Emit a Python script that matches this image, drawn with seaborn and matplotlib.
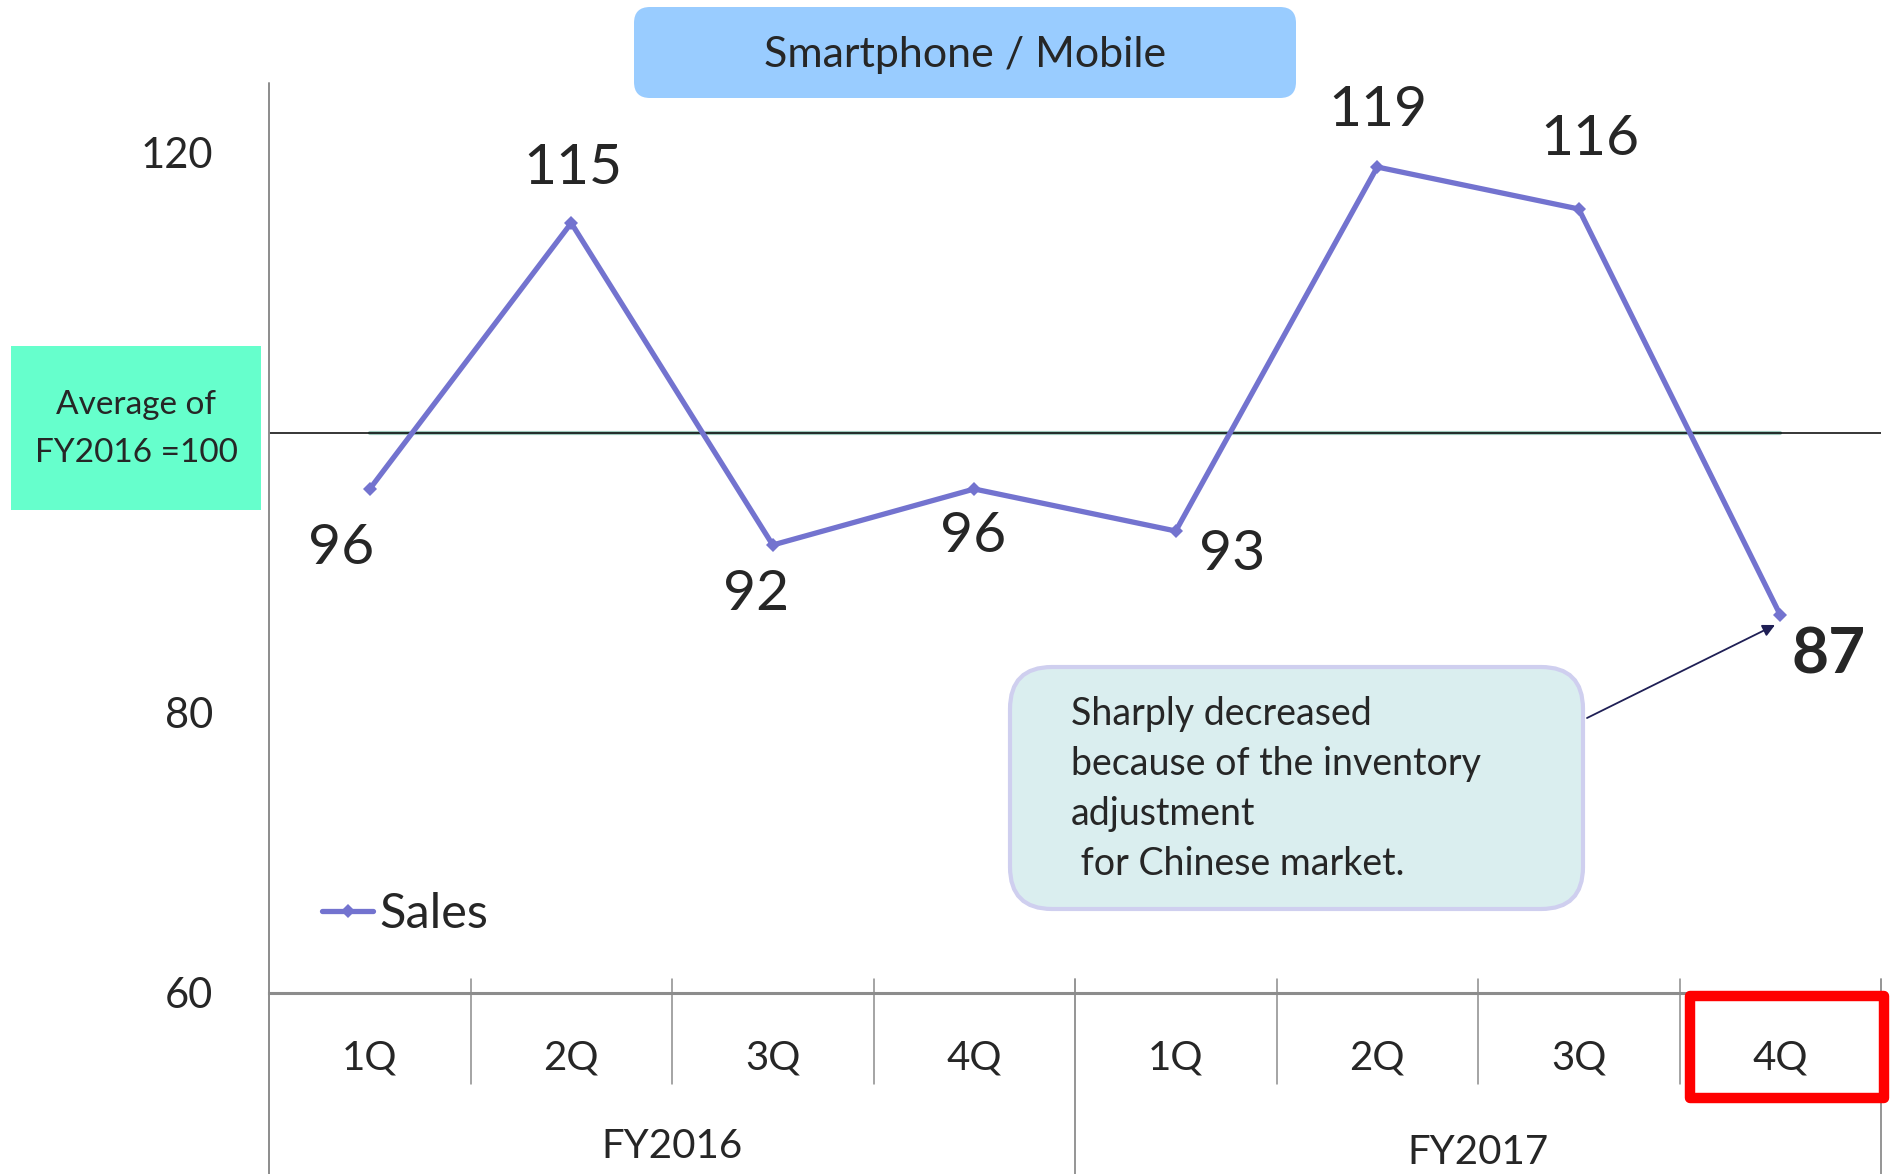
import matplotlib
matplotlib.use("Agg")
import matplotlib.pyplot as plt
import seaborn as sns
import pandas as pd
from matplotlib.patches import FancyBboxPatch, Rectangle
from matplotlib.transforms import blended_transform_factory

quarters = ["1Q", "2Q", "3Q", "4Q", "1Q", "2Q", "3Q", "4Q"]
years = ["FY2016", "FY2017"]
sales = [96, 115, 92, 96, 93, 119, 116, 87]
yticks = [60, 80, 120]
title = "Smartphone / Mobile"
avg_text = "Average of\nFY2016 =100"
note_text = "Sharply decreased\nbecause of the inventory\nadjustment\n for Chinese market."

sns.set_style("white")
plt.rcParams["font.family"] = ["Lato", "DejaVu Sans"]

W, H = 1904, 1174
fig = plt.figure(figsize=(W / 100, H / 100), dpi=100)
ax = fig.add_axes([269 / W, (H - 993) / H, (1881 - 269) / W, (993 - 83) / H])

df = pd.DataFrame({"pos": list(range(len(sales))), "Sales": sales})
line_color = "#7373CF"
sns.lineplot(data=df, x="pos", y="Sales", ax=ax, color=line_color, lw=3.8,
             marker="D", markersize=7, markeredgewidth=0, label="Sales")

ax.set_xlim(-0.5, len(sales) - 0.5)
ax.set_ylim(60, 125)
ax.set_yticks(yticks)
ax.set_yticklabels([str(v) for v in yticks], fontsize=30)
ax.tick_params(axis="y", length=0, pad=40)
ax.set_xticks([])
ax.set_xlabel("")
ax.set_ylabel("")
for s in ["top", "right", "left"]:
    ax.spines[s].set_visible(False)
ax.spines["bottom"].set_color("#8c8c8c")
ax.spines["bottom"].set_linewidth(2.2)

# reference lines at 100
ax.plot([0, len(sales) - 1], [100, 100], color="#9fc9bd", lw=3.0, zorder=1)
ax.axhline(100, color="black", lw=1.1, zorder=1.5)

# category axis lines
tr = blended_transform_factory(ax.transData, fig.transFigure)
n = len(sales)
for k in range(n + 1):
    xb = k - 0.5
    if k == 0:
        ax.plot([xb, xb], [0, (H - 83) / H], transform=tr, color="#8c8c8c",
                lw=1.4, clip_on=False, zorder=3)
    elif k % 4 == 0:
        ax.plot([xb, xb], [0, (H - 979) / H], transform=tr, color="#8c8c8c",
                lw=1.3, clip_on=False, zorder=3)
    else:
        ax.plot([xb, xb], [(H - 1084) / H, (H - 979) / H], transform=tr,
                color="#8c8c8c", lw=1.1, clip_on=False, zorder=3)
for i, q in enumerate(quarters):
    ax.text(i, (H - 1058) / H, q, transform=tr, ha="center", va="center",
            fontsize=29)
ax.text(1.5, (H - 1146) / H, years[0], transform=tr, ha="center", va="center",
        fontsize=29)
ax.text(5.5, (H - 1153) / H, years[1], transform=tr, ha="center", va="center",
        fontsize=29)

# data labels (offsets in pixels)
offsets = [(-29, -60), (2, 54), (-17, -49), (-1, -48), (56, -23), (1, 56),
           (11, 69), (48, -40)]
for i, (v, (dx, dy)) in enumerate(zip(sales, offsets)):
    last = i == n - 1
    ax.annotate(str(v), (i, v), xytext=(dx * 0.72, dy * 0.72),
                textcoords="offset points", ha="center", va="center",
                fontsize=46 if last else 41,
                fontweight="bold" if last else "normal")

# legend
leg = ax.legend(loc="center left", bbox_to_anchor=(322 / W, (H - 914) / H),
                bbox_transform=fig.transFigure, frameon=False, fontsize=35,
                handlelength=1.05, handletextpad=0.12, borderpad=0,
                borderaxespad=0)

inch = fig.dpi_scale_trans
# title box
fig.patches.append(FancyBboxPatch((634 / 100, (H - 98) / 100), 6.62, 0.91,
                                  boxstyle="round,pad=0,rounding_size=0.16",
                                  fc="#99CCFF", ec="none", transform=inch,
                                  figure=fig))
fig.text(965 / W, (H - 55) / H, title, ha="center", va="center", fontsize=31)

# average box
fig.patches.append(Rectangle((11 / 100, (H - 510) / 100), 2.5, 1.64,
                             fc="#66FFCC", ec="none", transform=inch,
                             figure=fig))
fig.text(136 / W, (H - 429) / H, avg_text, ha="center", va="center",
         fontsize=24, linespacing=1.75)

# note box
fig.patches.append(FancyBboxPatch((1010 / 100, (H - 909) / 100), 5.73, 2.42,
                                  boxstyle="round,pad=0,rounding_size=0.42",
                                  fc="#DAEEEF", ec="#CFCFEF", lw=3,
                                  transform=inch, figure=fig))
fig.text(1071 / W, (H - 789) / H, note_text, ha="left", va="center",
         fontsize=27, linespacing=1.48)
fig.add_artist(plt.Annotation("", xy=(1775, H - 625), xytext=(1587, H - 718),
                              xycoords="figure pixels",
                              textcoords="figure pixels",
                              arrowprops=dict(arrowstyle="-|>", color="#1f1f55",
                                              lw=1.3, mutation_scale=18,
                                              shrinkA=0, shrinkB=0)))

# highlight box
fig.patches.append(Rectangle((1690 / 100, (H - 1098) / 100), 1.94, 1.02,
                             fc="none", ec="#FF0000", lw=7.5, transform=inch,
                             figure=fig, joinstyle="round"))

fig.savefig("out.png", dpi=100)
